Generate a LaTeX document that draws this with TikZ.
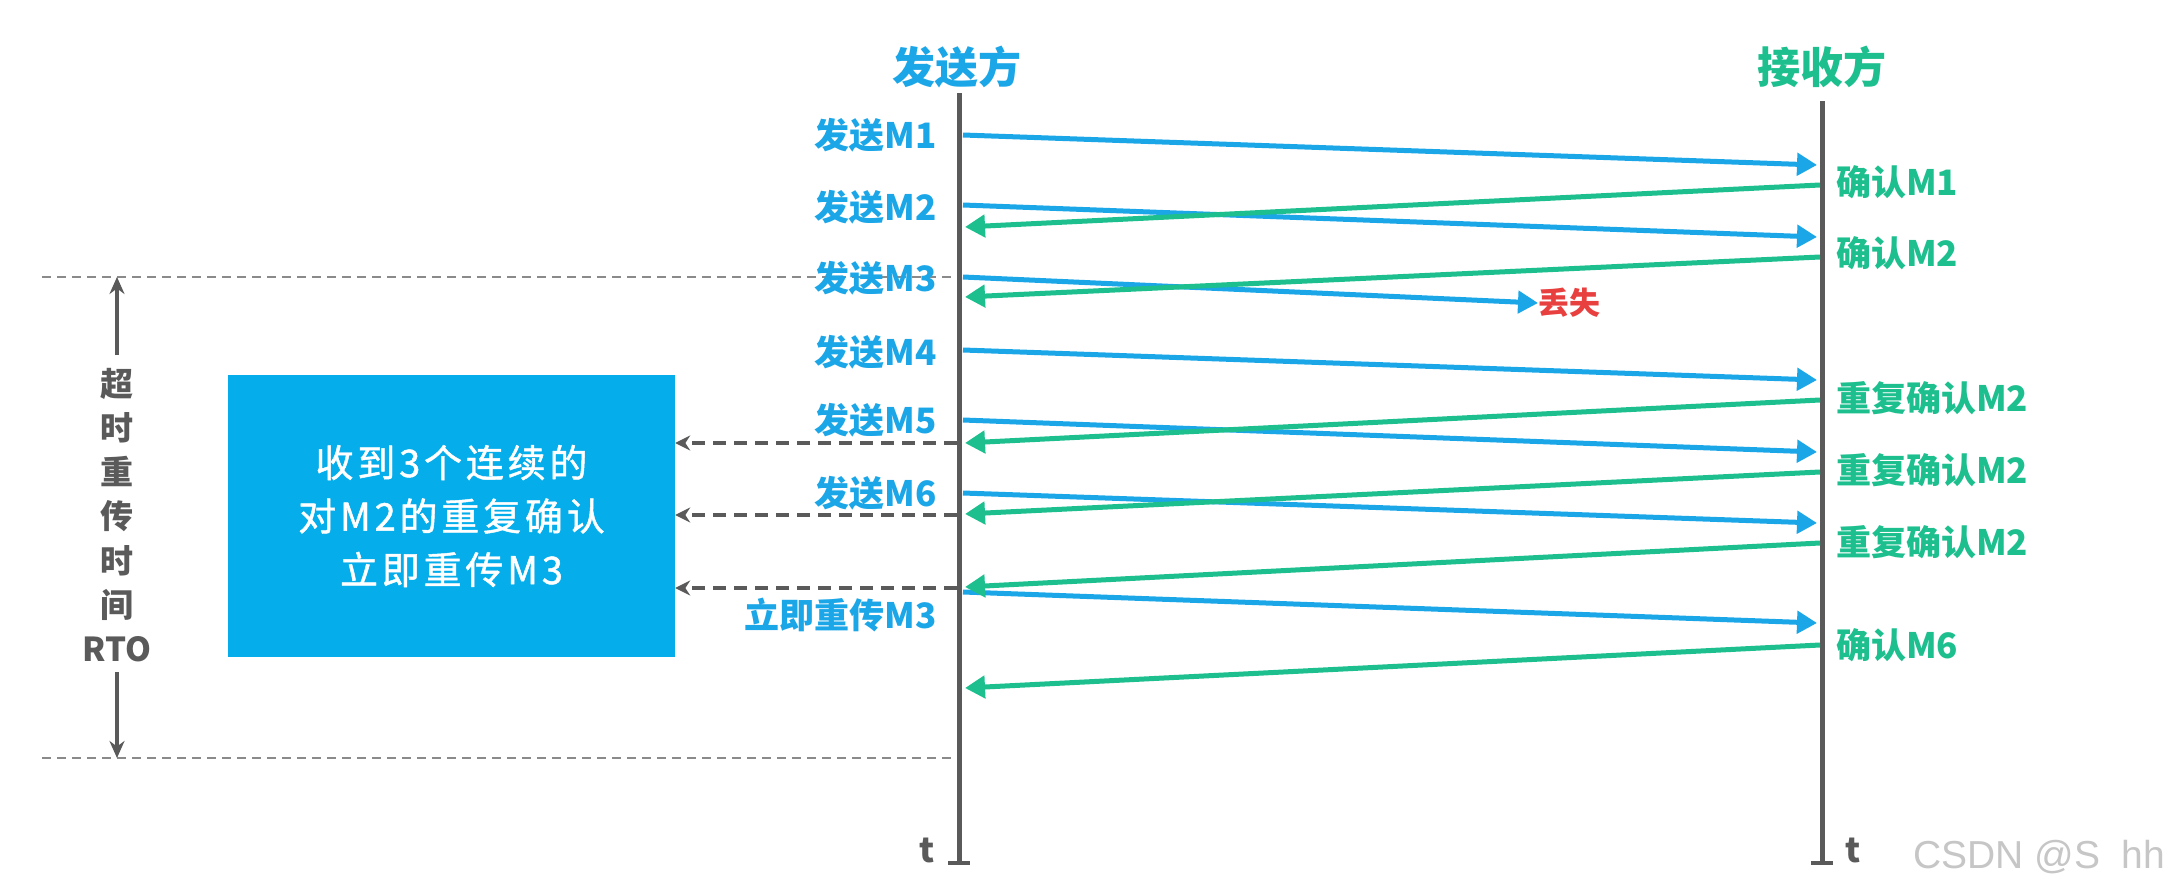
\documentclass[tikz,border=0pt]{standalone}
\usepackage{fontspec}
\setmainfont{Noto Sans CJK SC}
\newfontfamily\wmfont{Liberation Sans}
\newfontfamily\boxfont[LetterSpace=10,FakeBold=1.2]{Noto Sans CJK SC}
\usetikzlibrary{arrows.meta}
\definecolor{sblue}{HTML}{1BA6E8}
\definecolor{rgreen}{HTML}{1DBF8E}
\definecolor{lgray}{HTML}{5A5A5A}
\definecolor{dgray}{HTML}{8A8A8A}
\definecolor{boxblue}{HTML}{05ADEB}
\definecolor{lossred}{HTML}{E8403F}
\tikzset{
  lifeline/.style={lgray, line width=5pt, -{Bar[width=22pt,line width=4pt]}},
  title/.style={font=\fontsize{43}{47}\selectfont\bfseries, inner sep=0pt},
  slabel/.style={sblue, font=\fontsize{35}{38}\selectfont\bfseries, anchor=east, inner sep=0pt},
  rlabel/.style={rgreen, font=\fontsize{35}{38}\selectfont\bfseries, anchor=west, inner sep=0pt},
  msg/.style={sblue, line width=5pt, -{Triangle[length=20pt,width=22pt]}},
  ack/.style={rgreen, line width=5pt, -{Triangle[length=20pt,width=22pt]}},
  dasharr/.style={lgray, line width=4.5pt, dash pattern=on 13pt off 8pt, -{Stealth[length=15pt,width=15pt]}},
  rtoline/.style={dgray, line width=2pt, dash pattern=on 9pt off 6pt},
  rtoarr/.style={lgray, line width=3.5pt, -{Stealth[length=17pt,width=15pt]}},
  bluebox/.style={fill=boxblue, draw=none, minimum width=447pt, minimum height=282pt, text=white, align=center, font=\boxfont\fontsize{38}{53.5}\selectfont, inner sep=0pt},
  tlabel/.style={lgray, font=\fontsize{34}{38}\selectfont\bfseries, inner sep=0pt}
}
\begin{document}
\begin{tikzpicture}[x=1pt,y=-1pt]
\fill[white] (0,0) rectangle (2171,894);
\useasboundingbox (0,0) rectangle (2171,894);

% RTO boundaries
\coordinate (rtoTopL) at (42,277);
\coordinate (rtoTopR) at (957,277);
\coordinate (rtoBotL) at (42,758);
\coordinate (rtoBotR) at (955,758);
\draw[rtoline] (rtoTopL) -- (rtoTopR);
\draw[rtoline] (rtoBotL) -- (rtoBotR);

% titles
\node[title, sblue] (snd) at (957,67) {发送方};
\node[title, rgreen] (rcv) at (1822,67) {接收方};

% lifelines
\coordinate (sTop) at (959,93);
\coordinate (sBot) at (959,865);
\coordinate (rTop) at (1822,101);
\coordinate (rBot) at (1822,865);
\draw[lifeline] (sTop) -- (sBot);
\draw[lifeline] (rTop) -- (rBot);
\node[tlabel] (tS) at (927,850) {t};
\node[tlabel] (tR) at (1853,850) {t};

% sender points
\coordinate (s1) at (963,135);
\coordinate (s2) at (963,205);
\coordinate (s3) at (963,277);
\coordinate (s4) at (963,350);
\coordinate (s5) at (963,420);
\coordinate (s6) at (963,493);
\coordinate (s7) at (963,592);
% receiver points
\coordinate (r1) at (1817,165);
\coordinate (r2) at (1817,237);
\coordinate (r4) at (1817,380);
\coordinate (r5) at (1817,452);
\coordinate (r6) at (1817,523);
\coordinate (r7) at (1817,623);
% ack start/end
\coordinate (a1) at (1820,185);  \coordinate (b1) at (965,227);
\coordinate (a2) at (1820,257);  \coordinate (b2) at (965,297);
\coordinate (a3) at (1820,400);  \coordinate (b3) at (965,443);
\coordinate (a4) at (1820,472);  \coordinate (b4) at (965,514);
\coordinate (a5) at (1820,543);  \coordinate (b5) at (965,587);
\coordinate (a6) at (1820,645);  \coordinate (b6) at (965,688);

% lost label
\node[lossred, font=\fontsize{31}{34}\selectfont\bfseries, anchor=west, inner sep=0pt] (lost) at (1538,303) {丢失};

% sender labels
\node[slabel] (ls1) at (937,135) {发送M1};
\node[slabel] (ls2) at (937,207) {发送M2};
\node[slabel] (ls3) at (937,278) {发送M3};
\node[slabel] (ls4) at (937,352) {发送M4};
\node[slabel] (ls5) at (937,420) {发送M5};
\node[slabel] (ls6) at (937,493) {发送M6};
\node[slabel] (ls7) at (937,615) {立即重传M3};

% receiver labels
\node[rlabel] (lr1) at (1836,182) {确认M1};
\node[rlabel] (lr2) at (1836,253) {确认M2};
\node[rlabel] (lr3) at (1836,398) {重复确认M2};
\node[rlabel] (lr4) at (1836,470) {重复确认M2};
\node[rlabel] (lr5) at (1836,542) {重复确认M2};
\node[rlabel] (lr6) at (1836,645) {确认M6};

% messages
\draw[msg] (s1) -- (r1);
\draw[msg] (s2) -- (r2);
\draw[msg] (s3) -- (lost.west);
\draw[msg] (s4) -- (r4);
\draw[msg] (s5) -- (r5);
\draw[msg] (s6) -- (r6);
\draw[msg] (s7) -- (r7);

% acks
\draw[ack] (a1) -- (b1);
\draw[ack] (a2) -- (b2);
\draw[ack] (a3) -- (b3);
\draw[ack] (a4) -- (b4);
\draw[ack] (a5) -- (b5);
\draw[ack] (a6) -- (b6);

% blue box
\node[bluebox] (box) at (451.5,516) {收到3个连续的\\对M2的重复确认\\立即重传M3};

% dashed arrows to box
\coordinate (d1) at (957,443);
\coordinate (d2) at (957,515);
\coordinate (d3) at (957,588);
\draw[dasharr] (d1) -- (box.east |- d1);
\draw[dasharr] (d2) -- (box.east |- d2);
\draw[dasharr] (d3) -- (box.east |- d3);

% RTO arrows and text
\node[lgray, font=\fontsize{33}{44.2}\selectfont\bfseries, align=center, inner sep=0pt] (rto) at (117,515) {超\\时\\重\\传\\时\\间\\RTO};
\coordinate (rtoA1) at (117,355);
\coordinate (rtoA2) at (117,672);
\draw[rtoarr] (rtoA1) -- (rtoA1 |- rtoTopL);
\draw[rtoarr] (rtoA2) -- (rtoA2 |- rtoBotL);

% watermark
\node[gray!45, font=\wmfont\fontsize{39}{42}\selectfont, anchor=west, inner sep=0pt] (wm) at (1913,857) {CSDN @S\hspace{0.55em}hh};
\end{tikzpicture}
\end{document}
